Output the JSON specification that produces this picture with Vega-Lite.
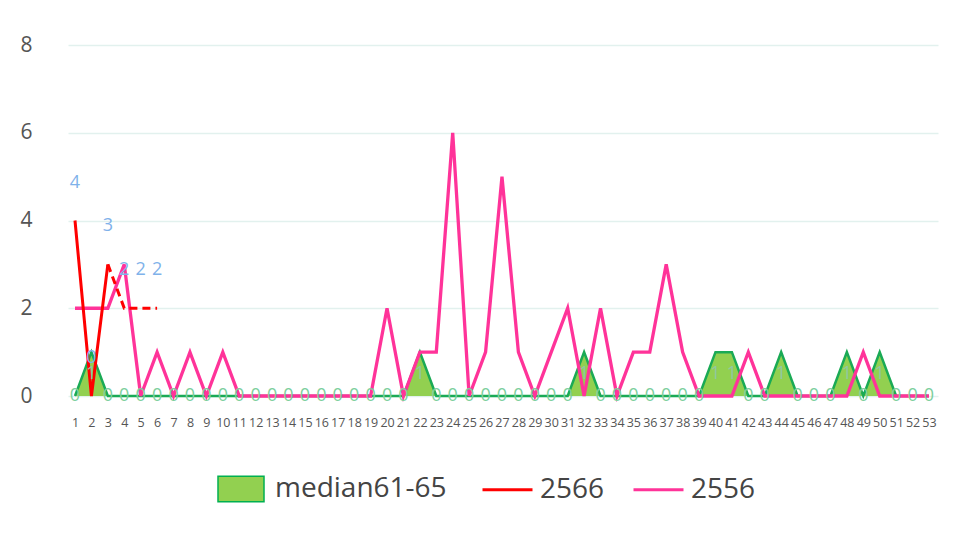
{
  "$schema": "https://vega.github.io/schema/vega-lite/v6.json",
  "width": 870,
  "height": 351,
  "autosize": {"type": "none"},
  "padding": {"left": 68, "top": 45, "right": 23, "bottom": 145},
  "background": "white",
  "config": {"font": "Open Sans", "view": {"stroke": null}},
  "datasets": {
    "main": [
      {"x": 1, "median": 0, "p2556": 2}, {"x": 2, "median": 1, "p2556": 2}, {"x": 3, "median": 0, "p2556": 2},
      {"x": 4, "median": 0, "p2556": 3}, {"x": 5, "median": 0, "p2556": 0}, {"x": 6, "median": 0, "p2556": 1},
      {"x": 7, "median": 0, "p2556": 0}, {"x": 8, "median": 0, "p2556": 1}, {"x": 9, "median": 0, "p2556": 0},
      {"x": 10, "median": 0, "p2556": 1}, {"x": 11, "median": 0, "p2556": 0}, {"x": 12, "median": 0, "p2556": 0},
      {"x": 13, "median": 0, "p2556": 0}, {"x": 14, "median": 0, "p2556": 0}, {"x": 15, "median": 0, "p2556": 0},
      {"x": 16, "median": 0, "p2556": 0}, {"x": 17, "median": 0, "p2556": 0}, {"x": 18, "median": 0, "p2556": 0},
      {"x": 19, "median": 0, "p2556": 0}, {"x": 20, "median": 0, "p2556": 2}, {"x": 21, "median": 0, "p2556": 0},
      {"x": 22, "median": 1, "p2556": 1}, {"x": 23, "median": 0, "p2556": 1}, {"x": 24, "median": 0, "p2556": 6},
      {"x": 25, "median": 0, "p2556": 0}, {"x": 26, "median": 0, "p2556": 1}, {"x": 27, "median": 0, "p2556": 5},
      {"x": 28, "median": 0, "p2556": 1}, {"x": 29, "median": 0, "p2556": 0}, {"x": 30, "median": 0, "p2556": 1},
      {"x": 31, "median": 0, "p2556": 2}, {"x": 32, "median": 1, "p2556": 0}, {"x": 33, "median": 0, "p2556": 2},
      {"x": 34, "median": 0, "p2556": 0}, {"x": 35, "median": 0, "p2556": 1}, {"x": 36, "median": 0, "p2556": 1},
      {"x": 37, "median": 0, "p2556": 3}, {"x": 38, "median": 0, "p2556": 1}, {"x": 39, "median": 0, "p2556": 0},
      {"x": 40, "median": 1, "p2556": 0}, {"x": 41, "median": 1, "p2556": 0}, {"x": 42, "median": 0, "p2556": 1},
      {"x": 43, "median": 0, "p2556": 0}, {"x": 44, "median": 1, "p2556": 0}, {"x": 45, "median": 0, "p2556": 0},
      {"x": 46, "median": 0, "p2556": 0}, {"x": 47, "median": 0, "p2556": 0}, {"x": 48, "median": 1, "p2556": 0},
      {"x": 49, "median": 0, "p2556": 1}, {"x": 50, "median": 1, "p2556": 0}, {"x": 51, "median": 0, "p2556": 0},
      {"x": 52, "median": 0, "p2556": 0}, {"x": 53, "median": 0, "p2556": 0}
    ],
    "red": [
      {"x": 1, "v": 4, "seg": "a"}, {"x": 2, "v": 0, "seg": "a"}, {"x": 3, "v": 3, "seg": "a"},
      {"x": 3, "v": 3, "seg": "b"}, {"x": 4, "v": 2, "seg": "b"}, {"x": 5, "v": 2, "seg": "b"}, {"x": 6, "v": 2, "seg": "b"}
    ]
  },
  "encoding": {
    "x": {
      "field": "x", "type": "quantitative",
      "scale": {"domain": [0.574, 53.55], "nice": false, "zero": false},
      "axis": {
        "title": null, "grid": false, "domain": false, "ticks": false,
        "values": [1,2,3,4,5,6,7,8,9,10,11,12,13,14,15,16,17,18,19,20,21,22,23,24,25,26,27,28,29,30,31,32,33,34,35,36,37,38,39,40,41,42,43,44,45,46,47,48,49,50,51,52,53],
        "format": "d", "labelOverlap": false, "labelFlush": false, "labelFontSize": 12.5,
        "labelColor": "#555555", "labelPadding": 20
      }
    }
  },
  "layer": [
    {
      "data": {"name": "main"},
      "mark": {"type": "area", "opacity": 1},
      "encoding": {
        "y": {
          "field": "median", "type": "quantitative",
          "scale": {"domain": [0, 8], "nice": false},
          "axis": {
            "title": null, "values": [0, 2, 4, 6, 8], "grid": true, "gridColor": "#e2f1ee", "gridWidth": 1.5,
            "domain": false, "ticks": false, "labelFontSize": 21, "labelColor": "#555555", "labelPadding": 36
          }
        },
        "fill": {
          "datum": "median61-65",
          "scale": {"domain": ["median61-65"], "range": ["#92d050"]},
          "legend": {
            "title": null, "orient": "none", "legendX": 149, "legendY": 420, "direction": "horizontal",
            "labelFontSize": 28, "labelColor": "#444444", "labelOffset": 10,
            "symbolType": "M-1,-0.55H1V0.55H-1Z", "symbolSize": 2116, "symbolStrokeColor": "#00b050",
            "symbolStrokeWidth": 1.5, "symbolFillColor": "#92d050", "padding": 0, "labelLimit": 300
          }
        }
      }
    },
    {
      "data": {"name": "main"},
      "mark": {"type": "line", "stroke": "#1aaa55", "strokeWidth": 2.5},
      "encoding": {"y": {"field": "median", "type": "quantitative"}}
    },
    {
      "data": {"name": "main"},
      "mark": {"type": "line", "strokeWidth": 3.3},
      "encoding": {
        "y": {"field": "p2556", "type": "quantitative"},
        "stroke": {
          "datum": "2556",
          "scale": {"domain": ["2566", "2556"], "range": ["#ff0000", "#ff3399"]},
          "legend": {
            "title": null, "orient": "none", "legendX": 413, "legendY": 418, "direction": "horizontal",
            "labelFontSize": 28, "labelColor": "#444444", "labelOffset": 6, "columnPadding": 22,
            "symbolType": "stroke", "symbolSize": 2500, "symbolStrokeWidth": 3, "padding": 0, "labelLimit": 300
          }
        }
      }
    },
    {
      "data": {"name": "red"},
      "transform": [{"filter": "datum.seg === 'a'"}],
      "mark": {"type": "line", "strokeWidth": 3},
      "encoding": {
        "y": {"field": "v", "type": "quantitative"},
        "stroke": {"datum": "2566"}
      }
    },
    {
      "data": {"name": "red"},
      "transform": [{"filter": "datum.seg === 'b'"}],
      "mark": {"type": "line", "strokeWidth": 3, "strokeDash": [8, 5]},
      "encoding": {
        "y": {"field": "v", "type": "quantitative"},
        "stroke": {"datum": "2566"}
      }
    },
    {
      "data": {"name": "red"},
      "transform": [{"filter": "datum.seg === 'a' || datum.x > 3"}],
      "mark": {"type": "text", "fontSize": 18, "color": "#7fb2ea", "dy": -38, "baseline": "middle"},
      "encoding": {
        "y": {"field": "v", "type": "quantitative"},
        "text": {"field": "v", "type": "quantitative"}
      }
    },
    {
      "data": {"name": "main"},
      "transform": [{"filter": "datum.median === 0"}],
      "mark": {"type": "text", "fontSize": 18, "color": "#7dcf9d", "baseline": "middle"},
      "encoding": {
        "y": {"field": "median", "type": "quantitative"},
        "text": {"field": "median", "type": "quantitative"}
      }
    },
    {
      "data": {"name": "main"},
      "transform": [{"filter": "datum.median === 1"}],
      "mark": {"type": "text", "fontSize": 18, "color": "#8fc7a3", "baseline": "middle", "dy": 22},
      "encoding": {
        "y": {"field": "median", "type": "quantitative"},
        "text": {"field": "median", "type": "quantitative"}
      }
    }
  ]
}
